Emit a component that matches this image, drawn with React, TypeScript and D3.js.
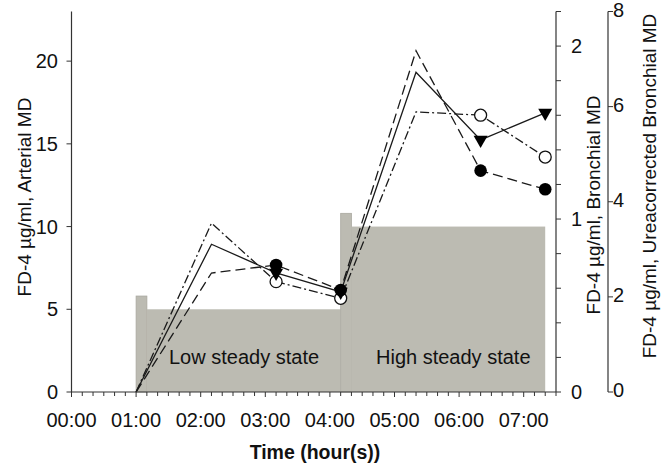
import * as d3 from 'd3'
import { FC, useRef, useEffect } from 'react'

// sample times in hours (01:00, 02:10, 03:10, 04:10, 05:20, 06:20, 07:20)
const times: number[] = [1.0, 2.167, 3.167, 4.167, 5.333, 6.333, 7.333]
const arterial: number[] = [0, 8.93, 7.2, 6.05, 19.33, 15.24, 16.87]
const bronchial: number[] = [0, 0.688, 0.734, 0.59, 1.973, 1.28, 1.172]
const ureaCorrected: number[] = [0, 3.55, 2.32, 1.97, 5.89, 5.82, 4.94]
const hasMarker: boolean[] = [false, false, true, true, false, true, true]

// infusion steps (left axis units)
const infStart: number[] = [1.0, 1.167, 4.167, 4.333]
const infEnd: number[] = [1.167, 4.167, 4.333, 7.333]
const infLevel: number[] = [5.8, 5.0, 10.8, 10.0]

const xTickLabels: string[] = ['00:00', '01:00', '02:00', '03:00', '04:00', '05:00', '06:00', '07:00']
const leftTicks: number[] = [0, 5, 10, 15, 20]
const rightTicks: number[] = [0, 1, 2]
const ureaTicks: number[] = [0, 2, 4, 6, 8]

const FONT = '"Liberation Sans", Arial, sans-serif'

const App: FC = () => {
    const svgRef = useRef<SVGSVGElement>(null)
    const dimensions = { width: 663, height: 466 }

    useEffect(() => {
        const svg = d3.select(svgRef.current)
        svg.selectAll('*').remove()

        const x = d3.scaleLinear().domain([0, 7.5]).range([71.5, 556])
        const yL = d3.scaleLinear().domain([0, 23]).range([392, 11.5])
        const yR = d3.scaleLinear().domain([0, 2.2]).range([392, 11.5])
        const yU = d3.scaleLinear().domain([0, 8]).range([392, 11.5])

        // gray infusion blocks
        const gray = '#bcbbb2'
        infStart.forEach((s, i) => {
            svg.append('rect')
                .attr('x', x(s))
                .attr('y', yL(infLevel[i]))
                .attr('width', x(infEnd[i]) - x(s))
                .attr('height', yL(0) - yL(infLevel[i]))
                .attr('fill', gray)
                .attr('stroke', i % 2 === 0 ? '#a9a89f' : 'none')
                .attr('stroke-width', 0.8)
        })

        svg.append('text').attr('x', 169).attr('y', 364)
            .attr('font-family', FONT).attr('font-size', 20).attr('fill', '#111')
            .text('Low steady state')
        svg.append('text').attr('x', 376).attr('y', 364)
            .attr('font-family', FONT).attr('font-size', 20).attr('fill', '#111')
            .text('High steady state')

        // series lines
        const series = [
            { values: ureaCorrected, scale: yU, dash: '9,3,2,3' },
            { values: bronchial, scale: yR, dash: '10,5' },
            { values: arterial, scale: yL, dash: null },
        ]
        series.forEach(({ values, scale, dash }) => {
            const line = d3.line<number>()
                .x((_, i) => x(times[i]))
                .y(d => scale(d))
            svg.append('path')
                .attr('d', line(values))
                .attr('fill', 'none')
                .attr('stroke', '#1a1a1a')
                .attr('stroke-width', 1.3)
                .attr('stroke-dasharray', dash)
        })

        // markers
        const idx = times.map((_, i) => i).filter(i => hasMarker[i])
        idx.forEach(i => {
            svg.append('circle')
                .attr('cx', x(times[i])).attr('cy', yU(ureaCorrected[i])).attr('r', 6)
                .attr('fill', '#fff').attr('stroke', '#111').attr('stroke-width', 1.3)
        })
        const tri = d3.symbol().type(d3.symbolTriangle).size(85)
        idx.forEach(i => {
            svg.append('path')
                .attr('d', tri())
                .attr('transform', `translate(${x(times[i])},${yL(arterial[i])}) rotate(180)`)
                .attr('fill', '#000')
        })
        idx.forEach(i => {
            svg.append('circle')
                .attr('cx', x(times[i])).attr('cy', yR(bronchial[i])).attr('r', 6.3)
                .attr('fill', '#000')
        })

        const axisColor = '#333'
        // x axis
        svg.append('line').attr('x1', 71.5).attr('x2', 556).attr('y1', 392).attr('y2', 392)
            .attr('stroke', axisColor).attr('stroke-width', 1.2)
        d3.range(0, 46).forEach(k => {
            const t = k / 6
            svg.append('line')
                .attr('x1', x(t)).attr('x2', x(t)).attr('y1', 392).attr('y2', k % 6 === 0 ? 397 : 396)
                .attr('stroke', axisColor).attr('stroke-width', 1)
        })
        xTickLabels.forEach((lab, i) => {
            svg.append('text').attr('x', x(i)).attr('y', 427)
                .attr('text-anchor', 'middle').attr('font-family', FONT).attr('font-size', 20)
                .attr('fill', '#111').text(lab)
        })
        svg.append('text').attr('x', 315).attr('y', 459)
            .attr('text-anchor', 'middle').attr('font-family', FONT).attr('font-size', 19.5)
            .attr('font-weight', 'bold').attr('fill', '#111').text('Time (hour(s))')

        // left axis
        svg.append('line').attr('x1', 71.5).attr('x2', 71.5).attr('y1', 11.5).attr('y2', 392)
            .attr('stroke', axisColor).attr('stroke-width', 1.2)
        leftTicks.forEach(v => {
            svg.append('line').attr('x1', 66.5).attr('x2', 71.5).attr('y1', yL(v)).attr('y2', yL(v))
                .attr('stroke', axisColor)
            svg.append('text').attr('x', 58).attr('y', yL(v)).attr('dy', '0.35em')
                .attr('text-anchor', 'end').attr('font-family', FONT).attr('font-size', 20)
                .attr('fill', '#111').text(v)
        })
        svg.append('text')
            .attr('transform', 'translate(31,197) rotate(-90)')
            .attr('text-anchor', 'middle').attr('font-family', FONT).attr('font-size', 19)
            .attr('fill', '#111').text('FD-4 µg/ml, Arterial MD')

        // right axis (bronchial)
        svg.append('line').attr('x1', 556).attr('x2', 556).attr('y1', 11.5).attr('y2', 392)
            .attr('stroke', axisColor).attr('stroke-width', 1.2)
        d3.range(0, 12).forEach(k => {
            const v = k * 0.2
            if (v > 2.2) return
            svg.append('line').attr('x1', 556).attr('x2', 561).attr('y1', yR(v)).attr('y2', yR(v))
                .attr('stroke', axisColor)
        })
        svg.append('line').attr('x1', 556).attr('x2', 561).attr('y1', 11.5).attr('y2', 11.5)
            .attr('stroke', axisColor)
        rightTicks.forEach(v => {
            svg.append('text').attr('x', 571).attr('y', yR(v)).attr('dy', '0.35em')
                .attr('font-family', FONT).attr('font-size', 20).attr('fill', '#111').text(v)
        })
        svg.append('text')
            .attr('transform', 'translate(600,205) rotate(-90)')
            .attr('text-anchor', 'middle').attr('font-family', FONT).attr('font-size', 19)
            .attr('fill', '#111').text('FD-4 µg/ml, Bronchial MD')

        // third axis (urea corrected)
        svg.append('line').attr('x1', 608).attr('x2', 608).attr('y1', 11.5).attr('y2', 392)
            .attr('stroke', axisColor).attr('stroke-width', 1.2)
        ureaTicks.forEach(v => {
            svg.append('line').attr('x1', 608).attr('x2', 613).attr('y1', yU(v)).attr('y2', yU(v))
                .attr('stroke', axisColor)
            svg.append('text').attr('x', 613).attr('y', yU(v) - 2).attr('dy', '0.35em')
                .attr('font-family', FONT).attr('font-size', 20).attr('fill', '#111').text(v)
        })
        svg.append('text')
            .attr('transform', 'translate(656,186) rotate(-90)')
            .attr('text-anchor', 'middle').attr('font-family', FONT).attr('font-size', 19)
            .attr('fill', '#111').text('FD-4 µg/ml, Ureacorrected Bronchial MD')
    }, [])

    return (
        <div style={{ position: 'absolute', left: 0, top: 0 }}>
            <svg
                ref={svgRef}
                width={dimensions.width}
                height={dimensions.height}
                style={{ display: 'block', background: '#fff' }}
            />
        </div>
    )
}

export default App
